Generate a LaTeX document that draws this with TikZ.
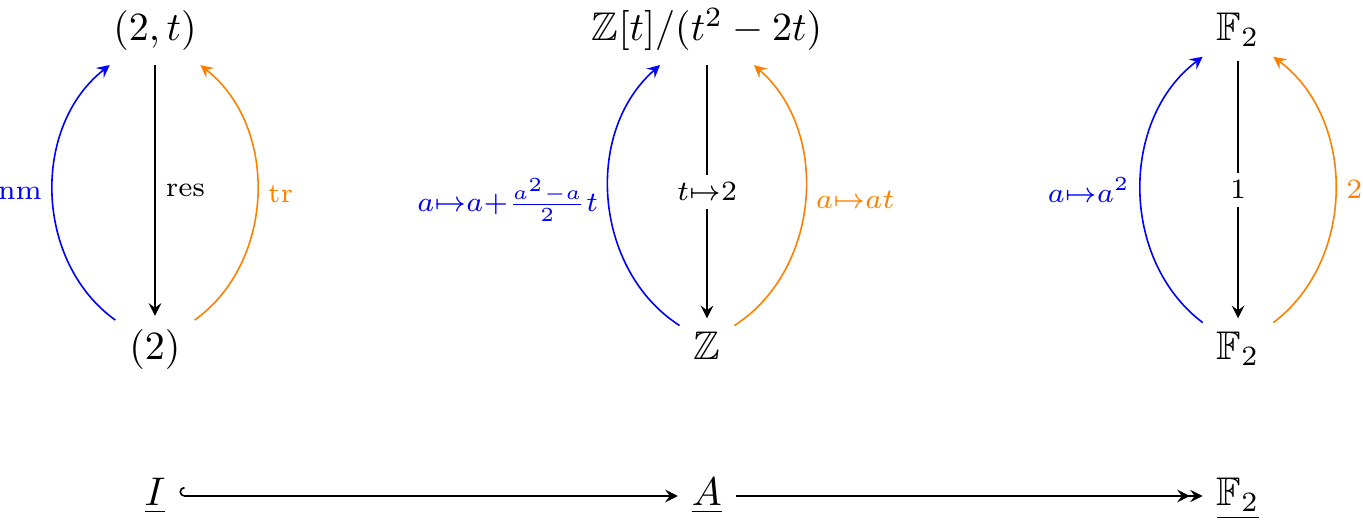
\documentclass[tikz,border=0pt]{standalone}
\usepackage{amsmath,amssymb}
\usetikzlibrary{arrows.meta}
\begin{document}
\begin{tikzpicture}[line join=round, >=stealth, obj/.style={anchor=base, inner sep=0.333em}, lab/.style={inner sep=2.5pt}, desc/.style={fill=white, inner sep=2pt}]
		\useasboundingbox (0,0) rectangle (11.976,4.613);
		\node[obj] (P) at (1.362,4.253) {$(2,t)$};
		\node[obj] (Q) at (1.362,1.450) {$(2)$};
		\node[obj] (R) at (6.212,4.253) {$\mathbb{Z}[t]/(t^2-2t)$};
		\node[obj] (Z) at (6.212,1.450) {$\mathbb{Z}$};
		\node[obj] (Ft) at (10.878,4.253) {$\mathbb{F}_2$};
		\node[obj] (Fb) at (10.878,1.450) {$\mathbb{F}_2$};
		\node[obj] (I) at (1.362,0.167) {$\underline{I}$};
		\node[obj] (A) at (6.212,0.167) {$\underline{A}$};
		\node[obj] (F) at (10.878,0.167) {$\underline{\mathbb{F}_2}$};
		\draw[->] (P) -- node[right, lab] {$\scriptstyle\mathrm{res}$} (Q);
		\draw[->, blue] (Q) to[bend left=53] node[left, lab] {$\scriptstyle\mathrm{nm}$} (P);
		\draw[->, orange] (Q) to[bend right=53] node[right, lab] {$\scriptstyle\mathrm{tr}$} (P);
		\draw[->] (R) -- node[desc] {$\scriptstyle t\mapsto 2$} (Z);
		\draw[->, blue] (Z) to[bend left=53] node[left, lab] {$\scriptstyle a\mapsto a+\frac{a^2-a}{2}t$} (R);
		\draw[->, orange] (Z) to[bend right=53] node[right, lab] {$\scriptstyle a\mapsto at$} (R);
		\draw[->] (Ft) -- node[desc] {$\scriptstyle 1$} (Fb);
		\draw[->, blue] (Fb) to[bend left=53] node[left, lab] {$\scriptstyle a\mapsto a^2$} (Ft);
		\draw[->, orange] (Fb) to[bend right=53] node[right, lab] {$\scriptstyle 2$} (Ft);
		\draw[{Hooks[right]}->] ([yshift=2.5pt]I.base east) -- ([yshift=2.5pt]A.base west);
		\draw[->>] ([yshift=2.5pt]A.base east) -- ([yshift=2.5pt]F.base west);
\end{tikzpicture}
\end{document}
